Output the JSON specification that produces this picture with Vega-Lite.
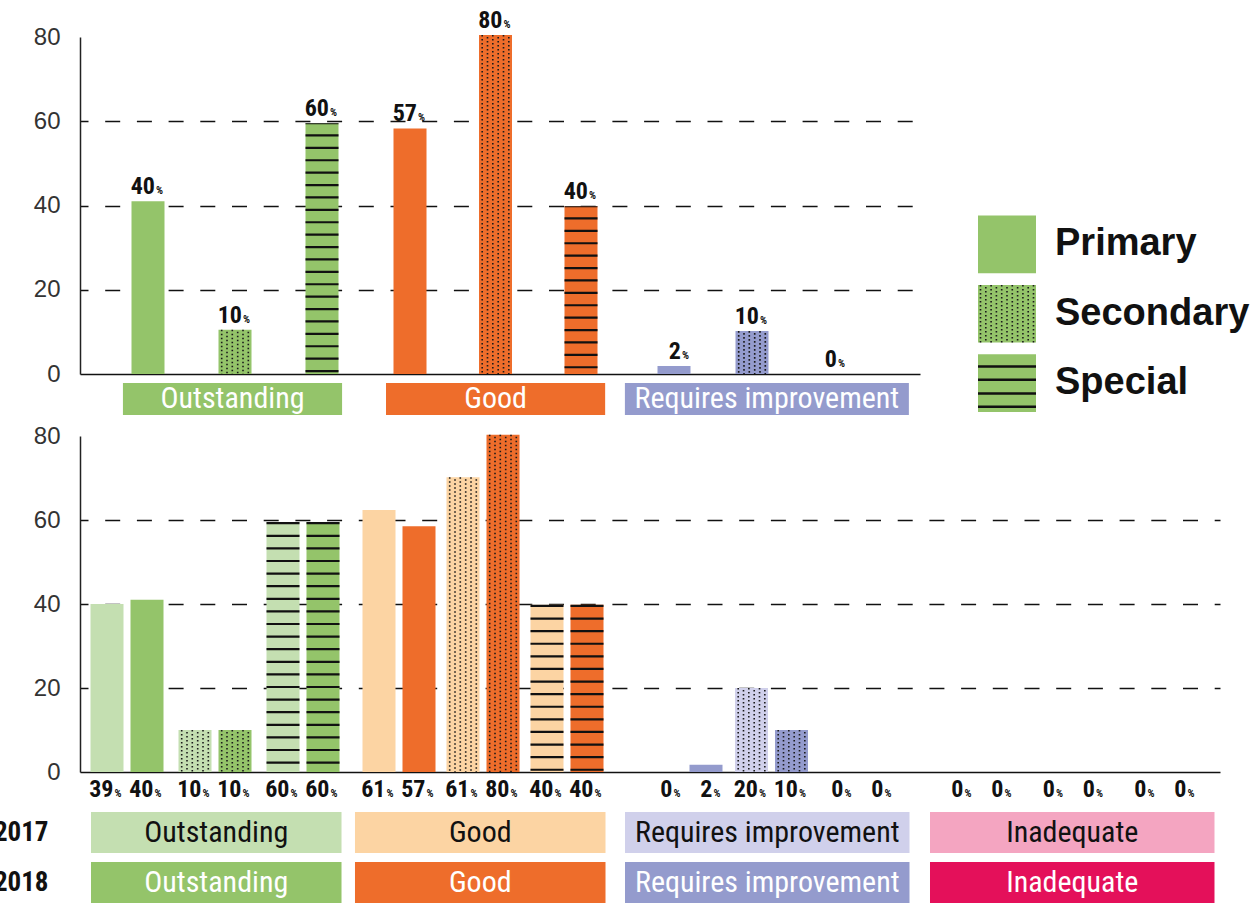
{
  "$schema": "https://vega.github.io/schema/vega-lite/v6.json",
  "padding": {"left": -15, "top": 8, "right": 0, "bottom": 0},
  "autosize": {"type": "pad"},
  "config": {"view": {"stroke": null}},
  "datasets": {
    "top": [
      {"cat": "Outstanding", "type": "Primary", "value": 41, "pct": 40},
      {"cat": "Outstanding", "type": "Secondary", "value": 10.5, "pct": 10},
      {"cat": "Outstanding", "type": "Special", "value": 59.5, "pct": 60},
      {"cat": "Good", "type": "Primary", "value": 58.3, "pct": 57},
      {"cat": "Good", "type": "Secondary", "value": 80.5, "pct": 80},
      {"cat": "Good", "type": "Special", "value": 39.8, "pct": 40},
      {"cat": "Requires improvement", "type": "Primary", "value": 1.9, "pct": 2},
      {"cat": "Requires improvement", "type": "Secondary", "value": 10.2, "pct": 10},
      {"cat": "Requires improvement", "type": "Special", "value": 0, "pct": 0}
    ],
    "topCats": [
      {"cat": "Outstanding"}, {"cat": "Good"}, {"cat": "Requires improvement"}
    ],
    "legend": [
      {"type": "Primary"}, {"type": "Secondary"}, {"type": "Special"}
    ],
    "bottom": [
      {"cat": "Outstanding", "type": "Primary", "year": "2017", "value": 40, "pct": 39},
      {"cat": "Outstanding", "type": "Primary", "year": "2018", "value": 41, "pct": 40},
      {"cat": "Outstanding", "type": "Secondary", "year": "2017", "value": 10, "pct": 10},
      {"cat": "Outstanding", "type": "Secondary", "year": "2018", "value": 10, "pct": 10},
      {"cat": "Outstanding", "type": "Special", "year": "2017", "value": 59.5, "pct": 60},
      {"cat": "Outstanding", "type": "Special", "year": "2018", "value": 59.5, "pct": 60},
      {"cat": "Good", "type": "Primary", "year": "2017", "value": 62.4, "pct": 61},
      {"cat": "Good", "type": "Primary", "year": "2018", "value": 58.5, "pct": 57},
      {"cat": "Good", "type": "Secondary", "year": "2017", "value": 70.2, "pct": 61},
      {"cat": "Good", "type": "Secondary", "year": "2018", "value": 80.3, "pct": 80},
      {"cat": "Good", "type": "Special", "year": "2017", "value": 39.8, "pct": 40},
      {"cat": "Good", "type": "Special", "year": "2018", "value": 39.8, "pct": 40},
      {"cat": "Requires improvement", "type": "Primary", "year": "2017", "value": 0, "pct": 0},
      {"cat": "Requires improvement", "type": "Primary", "year": "2018", "value": 1.7, "pct": 2},
      {"cat": "Requires improvement", "type": "Secondary", "year": "2017", "value": 20, "pct": 20},
      {"cat": "Requires improvement", "type": "Secondary", "year": "2018", "value": 10, "pct": 10},
      {"cat": "Requires improvement", "type": "Special", "year": "2017", "value": 0, "pct": 0},
      {"cat": "Requires improvement", "type": "Special", "year": "2018", "value": 0, "pct": 0},
      {"cat": "Inadequate", "type": "Primary", "year": "2017", "value": 0, "pct": 0},
      {"cat": "Inadequate", "type": "Primary", "year": "2018", "value": 0, "pct": 0},
      {"cat": "Inadequate", "type": "Secondary", "year": "2017", "value": 0, "pct": 0},
      {"cat": "Inadequate", "type": "Secondary", "year": "2018", "value": 0, "pct": 0},
      {"cat": "Inadequate", "type": "Special", "year": "2017", "value": 0, "pct": 0},
      {"cat": "Inadequate", "type": "Special", "year": "2018", "value": 0, "pct": 0}
    ],
    "boxes": [
      {"cat": "Outstanding", "year": "2017"}, {"cat": "Outstanding", "year": "2018"},
      {"cat": "Good", "year": "2017"}, {"cat": "Good", "year": "2018"},
      {"cat": "Requires improvement", "year": "2017"}, {"cat": "Requires improvement", "year": "2018"},
      {"cat": "Inadequate", "year": "2017"}, {"cat": "Inadequate", "year": "2018"}
    ]
  },
  "spacing": 9,
  "resolve": {"scale": {"color": "independent"}},
  "vconcat": [
    {
      "spacing": 56,
      "resolve": {"scale": {"color": "independent"}},
      "hconcat": [
        {
          "spacing": 9,
          "bounds": "flush",
          "resolve": {"scale": {"color": "independent"}},
          "vconcat": [
            {
              "width": 840,
              "height": 337,
              "data": {"name": "top"},
              "encoding": {
                "y": {"field": "value", "type": "quantitative", "scale": {"domain": [0, 80]},
                  "axis": {"values": [0, 20, 40, 60, 80], "title": null, "ticks": false, "labelPadding": 20, "labelFont": "Liberation Sans", "labelFontSize": 24, "labelColor": "#333", "domainColor": "#222", "domainWidth": 1.5, "grid": true, "gridColor": "#111", "minExtent": 95, "maxExtent": 95,
                    "gridWidth": {"condition": {"test": "datum.value === 0", "value": 1.5}, "value": 1.3},
                    "gridDash": {"condition": {"test": "datum.value === 0", "value": []}, "value": [15, 16.7]},
                    "gridDashOffset": 7,
                    "gridOpacity": {"condition": {"test": "datum.value === 80", "value": 0}, "value": 1}}},
                "color": {"field": "cat", "type": "nominal", "scale": {"domain": ["Outstanding", "Good", "Requires improvement"], "range": ["#94C46A", "#EE6D2B", "#949BCD"]}, "legend": null}
              },
              "resolve": {"scale": {"x": "independent"}},
              "layer": [
                {"mark": {"type": "point", "opacity": 0}, "encoding": {"x": {"field": "type", "type": "nominal", "axis": null}}},
                {
                  "transform": [{"filter": "datum.cat === 'Outstanding'"}],
                  "encoding": {"x": {"field": "type", "type": "nominal", "scale": {"domain": ["Primary", "Secondary", "Special"], "range": [24.5, 285.5], "paddingInner": 0, "paddingOuter": 0}, "axis": null}},
                  "layer": [
                    {"mark": {"type": "bar", "width": 33}},
                    {"transform": [{"filter": "datum.type === 'Special'"}], "mark": {"type": "rule", "strokeWidth": 33, "strokeDash": [2.2, 10.2], "strokeDashOffset": 1.4}, "encoding": {"y2": {"datum": 0}, "color": {"value": "#111"}}},
                    {"transform": [{"filter": "datum.type === 'Secondary'"}], "encoding": {"y2": {"datum": 0}, "color": {"value": "#1a1a1a"}},
                      "layer": [
                        {"mark": {"type": "rule", "xOffset": -13.3, "strokeWidth": 1.6, "strokeDash": [1.6, 2.4], "strokeDashOffset": 0}},
                        {"mark": {"type": "rule", "xOffset": -8, "strokeWidth": 1.6, "strokeDash": [1.6, 2.4], "strokeDashOffset": 2}},
                        {"mark": {"type": "rule", "xOffset": -2.7, "strokeWidth": 1.6, "strokeDash": [1.6, 2.4], "strokeDashOffset": 0}},
                        {"mark": {"type": "rule", "xOffset": 2.7, "strokeWidth": 1.6, "strokeDash": [1.6, 2.4], "strokeDashOffset": 2}},
                        {"mark": {"type": "rule", "xOffset": 8, "strokeWidth": 1.6, "strokeDash": [1.6, 2.4], "strokeDashOffset": 0}},
                        {"mark": {"type": "rule", "xOffset": 13.3, "strokeWidth": 1.6, "strokeDash": [1.6, 2.4], "strokeDashOffset": 2}}
                      ]},
                    {"mark": {"type": "text", "align": "right", "baseline": "alphabetic", "dx": 7, "dy": -7, "font": "Liberation Sans Narrow, Roboto Condensed, DejaVu Sans Condensed, sans-serif", "fontSize": 24, "fontWeight": "bold"}, "encoding": {"text": {"field": "pct", "type": "quantitative"}, "color": {"value": "#111"}}},
                    {"mark": {"type": "text", "align": "left", "baseline": "alphabetic", "dx": 8, "dy": -7, "font": "Liberation Sans Narrow, Roboto Condensed, DejaVu Sans Condensed, sans-serif", "fontSize": 11, "fontWeight": "bold"}, "encoding": {"text": {"value": "%"}, "color": {"value": "#111"}}}
                  ]
                },
                {
                  "transform": [{"filter": "datum.cat === 'Good'"}],
                  "encoding": {"x": {"field": "type", "type": "nominal", "scale": {"domain": ["Primary", "Secondary", "Special"], "range": [287.25, 543.75], "paddingInner": 0, "paddingOuter": 0}, "axis": null}},
                  "layer": [
                    {"mark": {"type": "bar", "width": 33}},
                    {"transform": [{"filter": "datum.type === 'Special'"}], "mark": {"type": "rule", "strokeWidth": 33, "strokeDash": [2.2, 10.2], "strokeDashOffset": 1.4}, "encoding": {"y2": {"datum": 0}, "color": {"value": "#111"}}},
                    {"transform": [{"filter": "datum.type === 'Secondary'"}], "encoding": {"y2": {"datum": 0}, "color": {"value": "#1a1a1a"}},
                      "layer": [
                        {"mark": {"type": "rule", "xOffset": -13.3, "strokeWidth": 1.6, "strokeDash": [1.6, 2.4], "strokeDashOffset": 0}},
                        {"mark": {"type": "rule", "xOffset": -8, "strokeWidth": 1.6, "strokeDash": [1.6, 2.4], "strokeDashOffset": 2}},
                        {"mark": {"type": "rule", "xOffset": -2.7, "strokeWidth": 1.6, "strokeDash": [1.6, 2.4], "strokeDashOffset": 0}},
                        {"mark": {"type": "rule", "xOffset": 2.7, "strokeWidth": 1.6, "strokeDash": [1.6, 2.4], "strokeDashOffset": 2}},
                        {"mark": {"type": "rule", "xOffset": 8, "strokeWidth": 1.6, "strokeDash": [1.6, 2.4], "strokeDashOffset": 0}},
                        {"mark": {"type": "rule", "xOffset": 13.3, "strokeWidth": 1.6, "strokeDash": [1.6, 2.4], "strokeDashOffset": 2}}
                      ]},
                    {"mark": {"type": "text", "align": "right", "baseline": "alphabetic", "dx": 7, "dy": -7, "font": "Liberation Sans Narrow, Roboto Condensed, DejaVu Sans Condensed, sans-serif", "fontSize": 24, "fontWeight": "bold"}, "encoding": {"text": {"field": "pct", "type": "quantitative"}, "color": {"value": "#111"}}},
                    {"mark": {"type": "text", "align": "left", "baseline": "alphabetic", "dx": 8, "dy": -7, "font": "Liberation Sans Narrow, Roboto Condensed, DejaVu Sans Condensed, sans-serif", "fontSize": 11, "fontWeight": "bold"}, "encoding": {"text": {"value": "%"}, "color": {"value": "#111"}}}
                  ]
                },
                {
                  "transform": [{"filter": "datum.cat === 'Requires improvement'"}],
                  "encoding": {"x": {"field": "type", "type": "nominal", "scale": {"domain": ["Primary", "Secondary", "Special"], "range": [555, 789], "paddingInner": 0, "paddingOuter": 0}, "axis": null}},
                  "layer": [
                    {"mark": {"type": "bar", "width": 33}},
                    {"transform": [{"filter": "datum.type === 'Secondary'"}], "encoding": {"y2": {"datum": 0}, "color": {"value": "#1a1a1a"}},
                      "layer": [
                        {"mark": {"type": "rule", "xOffset": -13.3, "strokeWidth": 1.6, "strokeDash": [1.6, 2.4], "strokeDashOffset": 0}},
                        {"mark": {"type": "rule", "xOffset": -8, "strokeWidth": 1.6, "strokeDash": [1.6, 2.4], "strokeDashOffset": 2}},
                        {"mark": {"type": "rule", "xOffset": -2.7, "strokeWidth": 1.6, "strokeDash": [1.6, 2.4], "strokeDashOffset": 0}},
                        {"mark": {"type": "rule", "xOffset": 2.7, "strokeWidth": 1.6, "strokeDash": [1.6, 2.4], "strokeDashOffset": 2}},
                        {"mark": {"type": "rule", "xOffset": 8, "strokeWidth": 1.6, "strokeDash": [1.6, 2.4], "strokeDashOffset": 0}},
                        {"mark": {"type": "rule", "xOffset": 13.3, "strokeWidth": 1.6, "strokeDash": [1.6, 2.4], "strokeDashOffset": 2}}
                      ]},
                    {"mark": {"type": "text", "align": "right", "baseline": "alphabetic", "dx": 7, "dy": -7, "font": "Liberation Sans Narrow, Roboto Condensed, DejaVu Sans Condensed, sans-serif", "fontSize": 24, "fontWeight": "bold"}, "encoding": {"text": {"field": "pct", "type": "quantitative"}, "color": {"value": "#111"}}},
                    {"mark": {"type": "text", "align": "left", "baseline": "alphabetic", "dx": 8, "dy": -7, "font": "Liberation Sans Narrow, Roboto Condensed, DejaVu Sans Condensed, sans-serif", "fontSize": 11, "fontWeight": "bold"}, "encoding": {"text": {"value": "%"}, "color": {"value": "#111"}}}
                  ]
                }
              ]
            },
            {
              "width": 840,
              "height": 32,
              "data": {"name": "topCats"},
              "encoding": {
                "color": {"field": "cat", "type": "nominal", "scale": {"domain": ["Outstanding", "Good", "Requires improvement"], "range": ["#94C46A", "#EE6D2B", "#949BCD"]}, "legend": null}
              },
              "resolve": {"scale": {"x": "independent"}},
              "layer": [
                {
                  "transform": [{"filter": "datum.cat !== 'Requires improvement'"}],
                  "encoding": {"x": {"field": "cat", "type": "nominal", "scale": {"domain": ["Outstanding", "Good"], "paddingInner": 0.167, "paddingOuter": 0.68, "align": 0.12}, "axis": null}},
                  "layer": [
                    {"mark": {"type": "rect"}},
                    {"mark": {"type": "text", "baseline": "middle", "font": "Liberation Sans Narrow, Roboto Condensed, DejaVu Sans Condensed, sans-serif", "fontSize": 30}, "encoding": {"text": {"field": "cat"}, "color": {"value": "white"}}}
                  ]
                },
                {
                  "transform": [{"filter": "datum.cat === 'Requires improvement'"}],
                  "encoding": {"x": {"field": "cat", "type": "nominal", "scale": {"domain": ["Requires improvement"], "paddingInner": 0, "paddingOuter": 0.979, "align": 0.98}, "axis": null}},
                  "layer": [
                    {"mark": {"type": "rect"}},
                    {"mark": {"type": "text", "baseline": "middle", "font": "Liberation Sans Narrow, Roboto Condensed, DejaVu Sans Condensed, sans-serif", "fontSize": 30}, "encoding": {"text": {"field": "cat"}, "color": {"value": "white"}}}
                  ]
                }
              ]
            }
          ]
        },
        {
          "width": 58,
          "height": 375,
          "data": {"name": "legend"},
          "encoding": {
            "y": {"field": "type", "type": "nominal", "scale": {"domain": ["Primary", "Secondary", "Special"], "range": [178.5, 375], "paddingInner": 0.17, "paddingOuter": 0}, "axis": null}
          },
          "layer": [
            {"mark": {"type": "rect", "color": "#94C46A"}},
            {"transform": [{"filter": "datum.type === 'Secondary'"}],
              "encoding": {"y2": {"field": "type"}, "color": {"value": "#1a1a1a"}},
              "layer": [
                {"mark": {"type": "rule", "xOffset": -26.5, "yOffset": -28.8, "y2Offset": 28.8, "strokeWidth": 1.6, "strokeDash": [1.6, 2.4], "strokeDashOffset": 0}},
                {"mark": {"type": "rule", "xOffset": -21.2, "yOffset": -28.8, "y2Offset": 28.8, "strokeWidth": 1.6, "strokeDash": [1.6, 2.4], "strokeDashOffset": 2}},
                {"mark": {"type": "rule", "xOffset": -15.9, "yOffset": -28.8, "y2Offset": 28.8, "strokeWidth": 1.6, "strokeDash": [1.6, 2.4], "strokeDashOffset": 0}},
                {"mark": {"type": "rule", "xOffset": -10.6, "yOffset": -28.8, "y2Offset": 28.8, "strokeWidth": 1.6, "strokeDash": [1.6, 2.4], "strokeDashOffset": 2}},
                {"mark": {"type": "rule", "xOffset": -5.3, "yOffset": -28.8, "y2Offset": 28.8, "strokeWidth": 1.6, "strokeDash": [1.6, 2.4], "strokeDashOffset": 0}},
                {"mark": {"type": "rule", "xOffset": 0, "yOffset": -28.8, "y2Offset": 28.8, "strokeWidth": 1.6, "strokeDash": [1.6, 2.4], "strokeDashOffset": 2}},
                {"mark": {"type": "rule", "xOffset": 5.3, "yOffset": -28.8, "y2Offset": 28.8, "strokeWidth": 1.6, "strokeDash": [1.6, 2.4], "strokeDashOffset": 0}},
                {"mark": {"type": "rule", "xOffset": 10.6, "yOffset": -28.8, "y2Offset": 28.8, "strokeWidth": 1.6, "strokeDash": [1.6, 2.4], "strokeDashOffset": 2}},
                {"mark": {"type": "rule", "xOffset": 15.9, "yOffset": -28.8, "y2Offset": 28.8, "strokeWidth": 1.6, "strokeDash": [1.6, 2.4], "strokeDashOffset": 0}},
                {"mark": {"type": "rule", "xOffset": 21.2, "yOffset": -28.8, "y2Offset": 28.8, "strokeWidth": 1.6, "strokeDash": [1.6, 2.4], "strokeDashOffset": 2}},
                {"mark": {"type": "rule", "xOffset": 26.5, "yOffset": -28.8, "y2Offset": 28.8, "strokeWidth": 1.6, "strokeDash": [1.6, 2.4], "strokeDashOffset": 0}}
              ]},
            {"transform": [{"filter": "datum.type === 'Special'"}],
              "encoding": {"color": {"value": "#111"}},
              "layer": [
                {"mark": {"type": "rule", "yOffset": -16.8, "strokeWidth": 2.5}},
                {"mark": {"type": "rule", "yOffset": -3.5, "strokeWidth": 2.5}},
                {"mark": {"type": "rule", "yOffset": 10.2, "strokeWidth": 2.5}},
                {"mark": {"type": "rule", "yOffset": 23.5, "strokeWidth": 2.5}}
              ]},
            {"mark": {"type": "text", "align": "left", "baseline": "middle", "dx": 48, "font": "Liberation Sans", "fontSize": 38, "fontWeight": "bold", "color": "#111"},
              "encoding": {"text": {"field": "type"}}}
          ]
        }
      ]
    },
    {
      "spacing": 9,
      "bounds": "flush",
      "resolve": {"scale": {"color": "independent"}},
      "vconcat": [
        {
          "width": 1140,
          "height": 336,
          "data": {"name": "bottom"},
          "transform": [{"calculate": "datum.cat + ' ' + datum.year", "as": "key"}],
          "encoding": {
            "y": {"field": "value", "type": "quantitative", "scale": {"domain": [0, 80]},
              "axis": {"values": [0, 20, 40, 60, 80], "title": null, "ticks": false, "labelPadding": 20, "labelFont": "Liberation Sans", "labelFontSize": 24, "labelColor": "#333", "domainColor": "#222", "domainWidth": 1.5, "grid": true, "gridColor": "#111", "minExtent": 95, "maxExtent": 95,
                "gridWidth": {"condition": {"test": "datum.value === 0", "value": 1.5}, "value": 1.3},
                "gridDash": {"condition": {"test": "datum.value === 0", "value": []}, "value": [15, 16.7]},
                "gridDashOffset": 7,
                "gridOpacity": {"condition": {"test": "datum.value === 80", "value": 0}, "value": 1}}},
            "color": {"field": "key", "type": "nominal", "scale": {"domain": ["Outstanding 2017", "Outstanding 2018", "Good 2017", "Good 2018", "Requires improvement 2017", "Requires improvement 2018", "Inadequate 2017", "Inadequate 2018"], "range": ["#C4DFB1", "#94C46A", "#FCD4A3", "#EE6D2B", "#D0D0EB", "#949BCD", "#F4A5C1", "#E4105A"]}, "legend": null}
          },
          "resolve": {"scale": {"x": "independent"}},
          "layer": [
            {"mark": {"type": "point", "opacity": 0}, "encoding": {"x": {"field": "type", "type": "nominal", "axis": null}}},
            {
              "transform": [{"filter": "datum.cat === 'Outstanding'"}],
              "encoding": {"x": {"field": "type", "type": "nominal", "scale": {"domain": ["Primary", "Secondary", "Special"], "range": [3, 267], "paddingInner": 0, "paddingOuter": 0}, "axis": null}},
              "layer": [
                {"transform": [{"filter": "datum.year === '2017'"}], "mark": {"type": "bar", "width": 33, "xOffset": -20}},
                {"transform": [{"filter": "datum.year === '2018'"}], "mark": {"type": "bar", "width": 33, "xOffset": 20}},
                {"transform": [{"filter": "datum.type === 'Special' && datum.year === '2017'"}], "mark": {"type": "rule", "xOffset": -20, "strokeWidth": 33, "strokeDash": [2.2, 10.4]}, "encoding": {"y2": {"datum": 0}, "color": {"value": "#111"}}},
                {"transform": [{"filter": "datum.type === 'Special' && datum.year === '2018'"}], "mark": {"type": "rule", "xOffset": 20, "strokeWidth": 33, "strokeDash": [2.2, 10.4]}, "encoding": {"y2": {"datum": 0}, "color": {"value": "#111"}}},
                {"transform": [{"filter": "datum.type === 'Secondary' && datum.year === '2017'"}], "encoding": {"y2": {"datum": 0}, "color": {"value": "#1a1a1a"}},
                  "layer": [
                    {"mark": {"type": "rule", "xOffset": -33.3, "strokeWidth": 1.6, "strokeDash": [1.6, 2.4], "strokeDashOffset": 0}},
                    {"mark": {"type": "rule", "xOffset": -28, "strokeWidth": 1.6, "strokeDash": [1.6, 2.4], "strokeDashOffset": 2}},
                    {"mark": {"type": "rule", "xOffset": -22.7, "strokeWidth": 1.6, "strokeDash": [1.6, 2.4], "strokeDashOffset": 0}},
                    {"mark": {"type": "rule", "xOffset": -17.3, "strokeWidth": 1.6, "strokeDash": [1.6, 2.4], "strokeDashOffset": 2}},
                    {"mark": {"type": "rule", "xOffset": -12, "strokeWidth": 1.6, "strokeDash": [1.6, 2.4], "strokeDashOffset": 0}},
                    {"mark": {"type": "rule", "xOffset": -6.7, "strokeWidth": 1.6, "strokeDash": [1.6, 2.4], "strokeDashOffset": 2}}
                  ]},
                {"transform": [{"filter": "datum.type === 'Secondary' && datum.year === '2018'"}], "encoding": {"y2": {"datum": 0}, "color": {"value": "#1a1a1a"}},
                  "layer": [
                    {"mark": {"type": "rule", "xOffset": 6.7, "strokeWidth": 1.6, "strokeDash": [1.6, 2.4], "strokeDashOffset": 0}},
                    {"mark": {"type": "rule", "xOffset": 12, "strokeWidth": 1.6, "strokeDash": [1.6, 2.4], "strokeDashOffset": 2}},
                    {"mark": {"type": "rule", "xOffset": 17.3, "strokeWidth": 1.6, "strokeDash": [1.6, 2.4], "strokeDashOffset": 0}},
                    {"mark": {"type": "rule", "xOffset": 22.7, "strokeWidth": 1.6, "strokeDash": [1.6, 2.4], "strokeDashOffset": 2}},
                    {"mark": {"type": "rule", "xOffset": 28, "strokeWidth": 1.6, "strokeDash": [1.6, 2.4], "strokeDashOffset": 0}},
                    {"mark": {"type": "rule", "xOffset": 33.3, "strokeWidth": 1.6, "strokeDash": [1.6, 2.4], "strokeDashOffset": 2}}
                  ]},
                {"transform": [{"filter": "datum.year === '2017'"}], "mark": {"type": "text", "align": "right", "baseline": "alphabetic", "dx": -13.5, "dy": 25, "font": "Liberation Sans Narrow, Roboto Condensed, DejaVu Sans Condensed, sans-serif", "fontSize": 24, "fontWeight": "bold"}, "encoding": {"y": {"datum": 0}, "text": {"field": "pct", "type": "quantitative"}, "color": {"value": "#111"}}},
                {"transform": [{"filter": "datum.year === '2017'"}], "mark": {"type": "text", "align": "left", "baseline": "alphabetic", "dx": -12.5, "dy": 25, "font": "Liberation Sans Narrow, Roboto Condensed, DejaVu Sans Condensed, sans-serif", "fontSize": 11, "fontWeight": "bold"}, "encoding": {"y": {"datum": 0}, "text": {"value": "%"}, "color": {"value": "#111"}}},
                {"transform": [{"filter": "datum.year === '2018'"}], "mark": {"type": "text", "align": "right", "baseline": "alphabetic", "dx": 26.5, "dy": 25, "font": "Liberation Sans Narrow, Roboto Condensed, DejaVu Sans Condensed, sans-serif", "fontSize": 24, "fontWeight": "bold"}, "encoding": {"y": {"datum": 0}, "text": {"field": "pct", "type": "quantitative"}, "color": {"value": "#111"}}},
                {"transform": [{"filter": "datum.year === '2018'"}], "mark": {"type": "text", "align": "left", "baseline": "alphabetic", "dx": 27.5, "dy": 25, "font": "Liberation Sans Narrow, Roboto Condensed, DejaVu Sans Condensed, sans-serif", "fontSize": 11, "fontWeight": "bold"}, "encoding": {"y": {"datum": 0}, "text": {"value": "%"}, "color": {"value": "#111"}}}
              ]
            },
            {
              "transform": [{"filter": "datum.cat === 'Good'"}],
              "encoding": {"x": {"field": "type", "type": "nominal", "scale": {"domain": ["Primary", "Secondary", "Special"], "range": [277, 529], "paddingInner": 0, "paddingOuter": 0}, "axis": null}},
              "layer": [
                {"transform": [{"filter": "datum.year === '2017'"}], "mark": {"type": "bar", "width": 33, "xOffset": -20}},
                {"transform": [{"filter": "datum.year === '2018'"}], "mark": {"type": "bar", "width": 33, "xOffset": 20}},
                {"transform": [{"filter": "datum.type === 'Special' && datum.year === '2017'"}], "mark": {"type": "rule", "xOffset": -20, "strokeWidth": 33, "strokeDash": [2.2, 10.4]}, "encoding": {"y2": {"datum": 0}, "color": {"value": "#111"}}},
                {"transform": [{"filter": "datum.type === 'Special' && datum.year === '2018'"}], "mark": {"type": "rule", "xOffset": 20, "strokeWidth": 33, "strokeDash": [2.2, 10.4]}, "encoding": {"y2": {"datum": 0}, "color": {"value": "#111"}}},
                {"transform": [{"filter": "datum.type === 'Secondary' && datum.year === '2017'"}], "encoding": {"y2": {"datum": 0}, "color": {"value": "#1a1a1a"}},
                  "layer": [
                    {"mark": {"type": "rule", "xOffset": -33.3, "strokeWidth": 1.6, "strokeDash": [1.6, 2.4], "strokeDashOffset": 0}},
                    {"mark": {"type": "rule", "xOffset": -28, "strokeWidth": 1.6, "strokeDash": [1.6, 2.4], "strokeDashOffset": 2}},
                    {"mark": {"type": "rule", "xOffset": -22.7, "strokeWidth": 1.6, "strokeDash": [1.6, 2.4], "strokeDashOffset": 0}},
                    {"mark": {"type": "rule", "xOffset": -17.3, "strokeWidth": 1.6, "strokeDash": [1.6, 2.4], "strokeDashOffset": 2}},
                    {"mark": {"type": "rule", "xOffset": -12, "strokeWidth": 1.6, "strokeDash": [1.6, 2.4], "strokeDashOffset": 0}},
                    {"mark": {"type": "rule", "xOffset": -6.7, "strokeWidth": 1.6, "strokeDash": [1.6, 2.4], "strokeDashOffset": 2}}
                  ]},
                {"transform": [{"filter": "datum.type === 'Secondary' && datum.year === '2018'"}], "encoding": {"y2": {"datum": 0}, "color": {"value": "#1a1a1a"}},
                  "layer": [
                    {"mark": {"type": "rule", "xOffset": 6.7, "strokeWidth": 1.6, "strokeDash": [1.6, 2.4], "strokeDashOffset": 0}},
                    {"mark": {"type": "rule", "xOffset": 12, "strokeWidth": 1.6, "strokeDash": [1.6, 2.4], "strokeDashOffset": 2}},
                    {"mark": {"type": "rule", "xOffset": 17.3, "strokeWidth": 1.6, "strokeDash": [1.6, 2.4], "strokeDashOffset": 0}},
                    {"mark": {"type": "rule", "xOffset": 22.7, "strokeWidth": 1.6, "strokeDash": [1.6, 2.4], "strokeDashOffset": 2}},
                    {"mark": {"type": "rule", "xOffset": 28, "strokeWidth": 1.6, "strokeDash": [1.6, 2.4], "strokeDashOffset": 0}},
                    {"mark": {"type": "rule", "xOffset": 33.3, "strokeWidth": 1.6, "strokeDash": [1.6, 2.4], "strokeDashOffset": 2}}
                  ]},
                {"transform": [{"filter": "datum.year === '2017'"}], "mark": {"type": "text", "align": "right", "baseline": "alphabetic", "dx": -13.5, "dy": 25, "font": "Liberation Sans Narrow, Roboto Condensed, DejaVu Sans Condensed, sans-serif", "fontSize": 24, "fontWeight": "bold"}, "encoding": {"y": {"datum": 0}, "text": {"field": "pct", "type": "quantitative"}, "color": {"value": "#111"}}},
                {"transform": [{"filter": "datum.year === '2017'"}], "mark": {"type": "text", "align": "left", "baseline": "alphabetic", "dx": -12.5, "dy": 25, "font": "Liberation Sans Narrow, Roboto Condensed, DejaVu Sans Condensed, sans-serif", "fontSize": 11, "fontWeight": "bold"}, "encoding": {"y": {"datum": 0}, "text": {"value": "%"}, "color": {"value": "#111"}}},
                {"transform": [{"filter": "datum.year === '2018'"}], "mark": {"type": "text", "align": "right", "baseline": "alphabetic", "dx": 26.5, "dy": 25, "font": "Liberation Sans Narrow, Roboto Condensed, DejaVu Sans Condensed, sans-serif", "fontSize": 24, "fontWeight": "bold"}, "encoding": {"y": {"datum": 0}, "text": {"field": "pct", "type": "quantitative"}, "color": {"value": "#111"}}},
                {"transform": [{"filter": "datum.year === '2018'"}], "mark": {"type": "text", "align": "left", "baseline": "alphabetic", "dx": 27.5, "dy": 25, "font": "Liberation Sans Narrow, Roboto Condensed, DejaVu Sans Condensed, sans-serif", "fontSize": 11, "fontWeight": "bold"}, "encoding": {"y": {"datum": 0}, "text": {"value": "%"}, "color": {"value": "#111"}}}
              ]
            },
            {
              "transform": [{"filter": "datum.cat === 'Requires improvement'"}],
              "encoding": {"x": {"field": "type", "type": "nominal", "scale": {"domain": ["Primary", "Secondary", "Special"], "range": [563.25, 819.75], "paddingInner": 0, "paddingOuter": 0}, "axis": null}},
              "layer": [
                {"transform": [{"filter": "datum.year === '2017'"}], "mark": {"type": "bar", "width": 33, "xOffset": -20}},
                {"transform": [{"filter": "datum.year === '2018'"}], "mark": {"type": "bar", "width": 33, "xOffset": 20}},
                {"transform": [{"filter": "datum.type === 'Secondary' && datum.year === '2017'"}], "encoding": {"y2": {"datum": 0}, "color": {"value": "#1a1a1a"}},
                  "layer": [
                    {"mark": {"type": "rule", "xOffset": -33.3, "strokeWidth": 1.6, "strokeDash": [1.6, 2.4], "strokeDashOffset": 0}},
                    {"mark": {"type": "rule", "xOffset": -28, "strokeWidth": 1.6, "strokeDash": [1.6, 2.4], "strokeDashOffset": 2}},
                    {"mark": {"type": "rule", "xOffset": -22.7, "strokeWidth": 1.6, "strokeDash": [1.6, 2.4], "strokeDashOffset": 0}},
                    {"mark": {"type": "rule", "xOffset": -17.3, "strokeWidth": 1.6, "strokeDash": [1.6, 2.4], "strokeDashOffset": 2}},
                    {"mark": {"type": "rule", "xOffset": -12, "strokeWidth": 1.6, "strokeDash": [1.6, 2.4], "strokeDashOffset": 0}},
                    {"mark": {"type": "rule", "xOffset": -6.7, "strokeWidth": 1.6, "strokeDash": [1.6, 2.4], "strokeDashOffset": 2}}
                  ]},
                {"transform": [{"filter": "datum.type === 'Secondary' && datum.year === '2018'"}], "encoding": {"y2": {"datum": 0}, "color": {"value": "#1a1a1a"}},
                  "layer": [
                    {"mark": {"type": "rule", "xOffset": 6.7, "strokeWidth": 1.6, "strokeDash": [1.6, 2.4], "strokeDashOffset": 0}},
                    {"mark": {"type": "rule", "xOffset": 12, "strokeWidth": 1.6, "strokeDash": [1.6, 2.4], "strokeDashOffset": 2}},
                    {"mark": {"type": "rule", "xOffset": 17.3, "strokeWidth": 1.6, "strokeDash": [1.6, 2.4], "strokeDashOffset": 0}},
                    {"mark": {"type": "rule", "xOffset": 22.7, "strokeWidth": 1.6, "strokeDash": [1.6, 2.4], "strokeDashOffset": 2}},
                    {"mark": {"type": "rule", "xOffset": 28, "strokeWidth": 1.6, "strokeDash": [1.6, 2.4], "strokeDashOffset": 0}},
                    {"mark": {"type": "rule", "xOffset": 33.3, "strokeWidth": 1.6, "strokeDash": [1.6, 2.4], "strokeDashOffset": 2}}
                  ]},
                {"transform": [{"filter": "datum.year === '2017'"}], "mark": {"type": "text", "align": "right", "baseline": "alphabetic", "dx": -13.5, "dy": 25, "font": "Liberation Sans Narrow, Roboto Condensed, DejaVu Sans Condensed, sans-serif", "fontSize": 24, "fontWeight": "bold"}, "encoding": {"y": {"datum": 0}, "text": {"field": "pct", "type": "quantitative"}, "color": {"value": "#111"}}},
                {"transform": [{"filter": "datum.year === '2017'"}], "mark": {"type": "text", "align": "left", "baseline": "alphabetic", "dx": -12.5, "dy": 25, "font": "Liberation Sans Narrow, Roboto Condensed, DejaVu Sans Condensed, sans-serif", "fontSize": 11, "fontWeight": "bold"}, "encoding": {"y": {"datum": 0}, "text": {"value": "%"}, "color": {"value": "#111"}}},
                {"transform": [{"filter": "datum.year === '2018'"}], "mark": {"type": "text", "align": "right", "baseline": "alphabetic", "dx": 26.5, "dy": 25, "font": "Liberation Sans Narrow, Roboto Condensed, DejaVu Sans Condensed, sans-serif", "fontSize": 24, "fontWeight": "bold"}, "encoding": {"y": {"datum": 0}, "text": {"field": "pct", "type": "quantitative"}, "color": {"value": "#111"}}},
                {"transform": [{"filter": "datum.year === '2018'"}], "mark": {"type": "text", "align": "left", "baseline": "alphabetic", "dx": 27.5, "dy": 25, "font": "Liberation Sans Narrow, Roboto Condensed, DejaVu Sans Condensed, sans-serif", "fontSize": 11, "fontWeight": "bold"}, "encoding": {"y": {"datum": 0}, "text": {"value": "%"}, "color": {"value": "#111"}}}
              ]
            },
            {
              "transform": [{"filter": "datum.cat === 'Inadequate'"}],
              "encoding": {"x": {"field": "type", "type": "nominal", "scale": {"domain": ["Primary", "Secondary", "Special"], "range": [851.25, 1125.75], "paddingInner": 0, "paddingOuter": 0}, "axis": null}},
              "layer": [
                {"transform": [{"filter": "datum.year === '2017'"}], "mark": {"type": "bar", "width": 33, "xOffset": -20}},
                {"transform": [{"filter": "datum.year === '2018'"}], "mark": {"type": "bar", "width": 33, "xOffset": 20}},
                {"transform": [{"filter": "datum.year === '2017'"}], "mark": {"type": "text", "align": "right", "baseline": "alphabetic", "dx": -13.5, "dy": 25, "font": "Liberation Sans Narrow, Roboto Condensed, DejaVu Sans Condensed, sans-serif", "fontSize": 24, "fontWeight": "bold"}, "encoding": {"y": {"datum": 0}, "text": {"field": "pct", "type": "quantitative"}, "color": {"value": "#111"}}},
                {"transform": [{"filter": "datum.year === '2017'"}], "mark": {"type": "text", "align": "left", "baseline": "alphabetic", "dx": -12.5, "dy": 25, "font": "Liberation Sans Narrow, Roboto Condensed, DejaVu Sans Condensed, sans-serif", "fontSize": 11, "fontWeight": "bold"}, "encoding": {"y": {"datum": 0}, "text": {"value": "%"}, "color": {"value": "#111"}}},
                {"transform": [{"filter": "datum.year === '2018'"}], "mark": {"type": "text", "align": "right", "baseline": "alphabetic", "dx": 26.5, "dy": 25, "font": "Liberation Sans Narrow, Roboto Condensed, DejaVu Sans Condensed, sans-serif", "fontSize": 24, "fontWeight": "bold"}, "encoding": {"y": {"datum": 0}, "text": {"field": "pct", "type": "quantitative"}, "color": {"value": "#111"}}},
                {"transform": [{"filter": "datum.year === '2018'"}], "mark": {"type": "text", "align": "left", "baseline": "alphabetic", "dx": 27.5, "dy": 25, "font": "Liberation Sans Narrow, Roboto Condensed, DejaVu Sans Condensed, sans-serif", "fontSize": 11, "fontWeight": "bold"}, "encoding": {"y": {"datum": 0}, "text": {"value": "%"}, "color": {"value": "#111"}}}
              ]
            }
          ]
        },
        {
          "width": 1140,
          "height": 122,
          "data": {"name": "boxes"},
          "transform": [{"calculate": "datum.cat + ' ' + datum.year", "as": "key"}],
          "encoding": {
            "y": {"field": "year", "type": "nominal", "scale": {"domain": ["2017", "2018"], "paddingInner": 0.18, "paddingOuter": 0.31, "align": 1},
              "axis": {"title": null, "ticks": false, "domain": false, "labelPadding": 32, "minExtent": 95, "maxExtent": 95, "labelFont": "Liberation Sans Narrow, Roboto Condensed, DejaVu Sans Condensed, sans-serif", "labelFontSize": 27, "labelFontWeight": "bold", "labelColor": "#111"}},
            "color": {"field": "key", "type": "nominal", "scale": {"domain": ["Outstanding 2017", "Outstanding 2018", "Good 2017", "Good 2018", "Requires improvement 2017", "Requires improvement 2018", "Inadequate 2017", "Inadequate 2018"], "range": ["#C4DFB1", "#94C46A", "#FCD4A3", "#EE6D2B", "#D0D0EB", "#949BCD", "#F4A5C1", "#E4105A"]}, "legend": null}
          },
          "resolve": {"scale": {"x": "independent"}},
          "layer": [
            {
              "transform": [{"filter": "datum.cat === 'Outstanding' || datum.cat === 'Good'"}],
              "encoding": {"x": {"field": "cat", "type": "nominal", "scale": {"domain": ["Outstanding", "Good"], "range": [11, 525.5], "paddingInner": 0.051, "paddingOuter": 0}, "axis": null}},
              "layer": [
                {"mark": {"type": "rect"}},
                {"mark": {"type": "text", "baseline": "middle", "font": "Liberation Sans Narrow, Roboto Condensed, DejaVu Sans Condensed, sans-serif", "fontSize": 30},
                  "encoding": {"text": {"field": "cat"}, "color": {"condition": {"test": "datum.year === '2017'", "value": "#111"}, "value": "white"}}}
              ]
            },
            {
              "transform": [{"filter": "datum.cat === 'Requires improvement' || datum.cat === 'Inadequate'"}],
              "encoding": {"x": {"field": "cat", "type": "nominal", "scale": {"domain": ["Requires improvement", "Inadequate"], "paddingInner": 0.0672, "paddingOuter": 0.9025, "align": 0.99}, "axis": null}},
              "layer": [
                {"mark": {"type": "rect"}},
                {"mark": {"type": "text", "baseline": "middle", "font": "Liberation Sans Narrow, Roboto Condensed, DejaVu Sans Condensed, sans-serif", "fontSize": 30},
                  "encoding": {"text": {"field": "cat"}, "color": {"condition": {"test": "datum.year === '2017'", "value": "#111"}, "value": "white"}}}
              ]
            }
          ]
        }
      ]
    }
  ]
}
